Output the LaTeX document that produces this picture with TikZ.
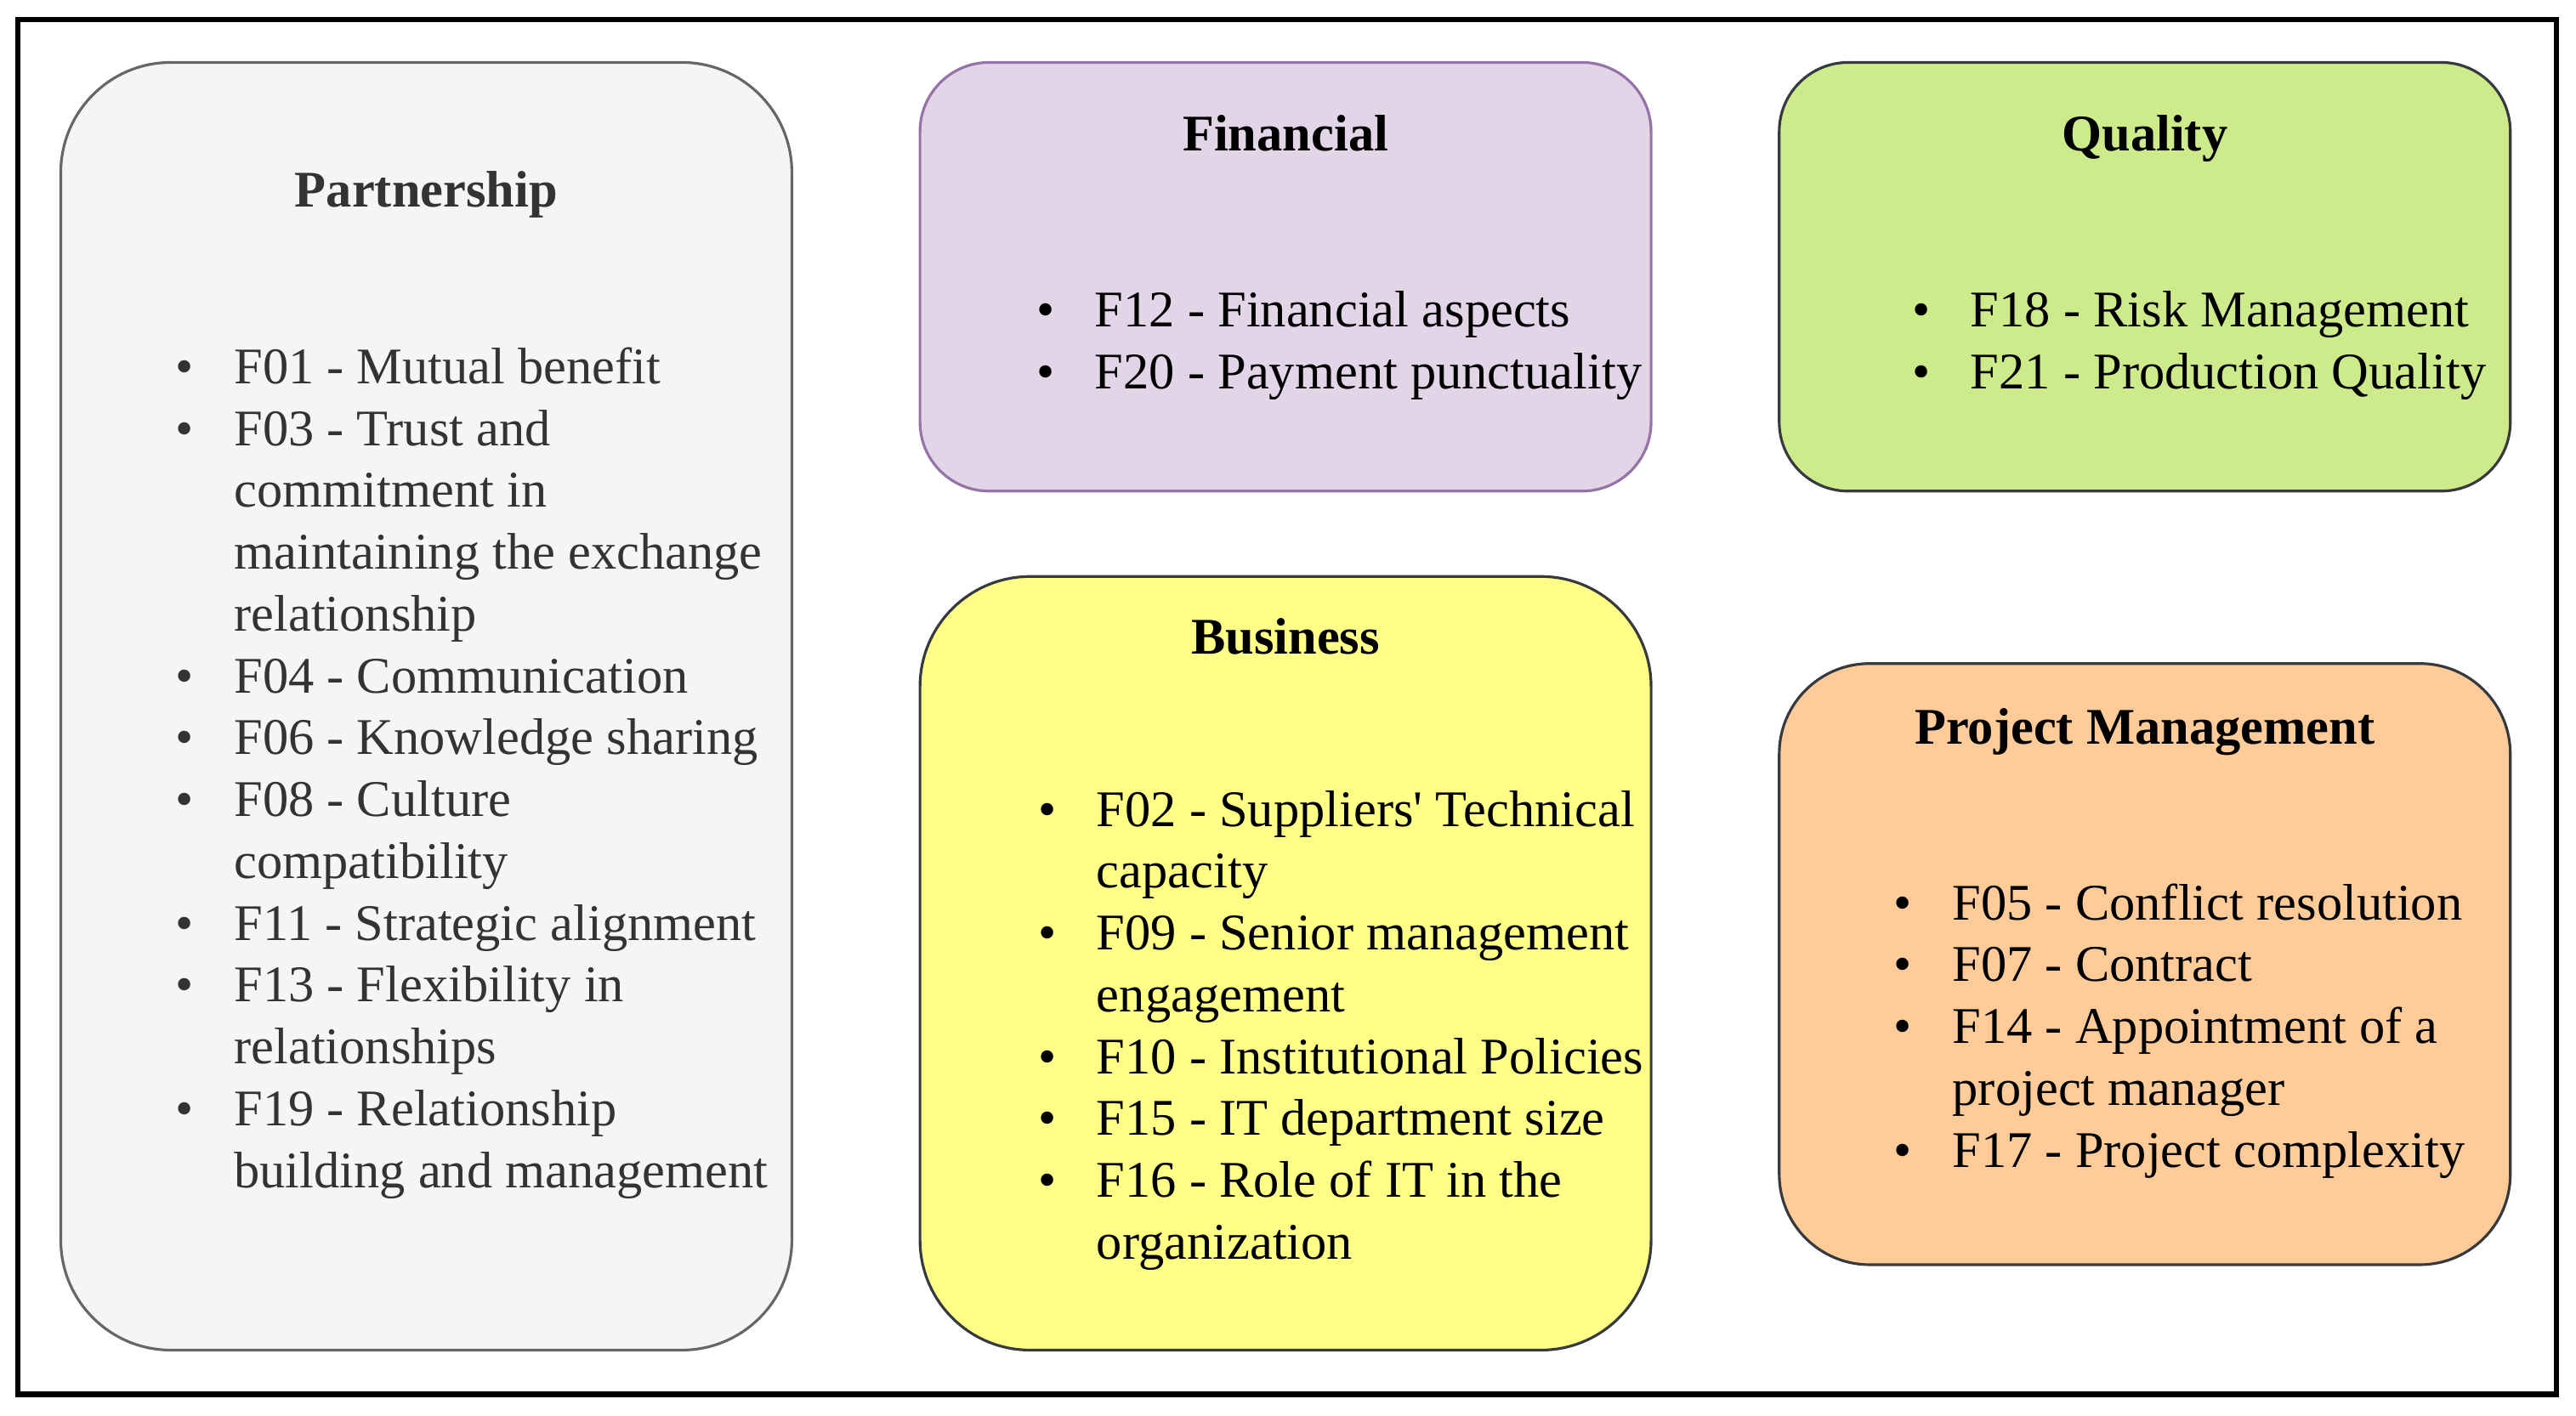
\documentclass[tikz,border=0pt]{standalone}
\usepackage{fontspec}
\setmainfont{Liberation Serif}
\definecolor{partfill}{HTML}{F5F5F5}
\definecolor{partline}{HTML}{666666}
\definecolor{parttext}{HTML}{333333}
\definecolor{finfill}{HTML}{E1D5E7}
\definecolor{finline}{HTML}{9673A6}
\definecolor{qualfill}{HTML}{CDEB8B}
\definecolor{busfill}{HTML}{FFFF88}
\definecolor{pmfill}{HTML}{FFCC99}
\definecolor{darkline}{HTML}{36393D}
\newdimen\pxu \pxu=0.019324cm
\newcommand{\catfont}{\fontsize{17.2pt}{20.7pt}\selectfont}
\newcommand{\bul}{\makebox[1.14em][l]{\textbullet}}
\newcommand{\ind}{\hspace*{1.14em}}
\begin{document}
\begin{tikzpicture}[x=0.019324cm, y=-0.019324cm,
  catbox/.style={draw=darkline, line width=0.9pt, minimum width=445\pxu},
  cattitle/.style={anchor=base, inner sep=0pt, font=\catfont\bfseries},
  catlist/.style={anchor=base west, inner sep=0pt, font=\catfont}]
\useasboundingbox (0,0) rectangle (1568,862);
\draw[line width=1.8pt] (11,12) rectangle (1556,849);
% category boxes
\node[catbox, fill=partfill, draw=partline, minimum height=784\pxu, rounded corners=67\pxu] (part) at (259.5,430) {};
\node[catbox, fill=finfill, draw=finline, minimum height=261\pxu, rounded corners=42\pxu] (fin) at (782.5,168.5) {};
\node[catbox, fill=qualfill, minimum height=261\pxu, rounded corners=42\pxu] (qual) at (1305.5,168.5) {};
\node[catbox, fill=busfill, minimum height=471\pxu, rounded corners=67\pxu] (bus) at (782.5,586.5) {};
\node[catbox, fill=pmfill, minimum height=366\pxu, rounded corners=55\pxu] (pm) at (1305.5,587) {};
% titles
\node[cattitle, text=parttext] (parttitle) at (259.5,126) {Partnership};
\node[cattitle] (fintitle) at (782.5,92) {Financial};
\node[cattitle] (qualtitle) at (1305.5,92) {Quality};
\node[cattitle] (bustitle) at (782.5,398) {Business};
\node[cattitle] (pmtitle) at (1305.5,453) {Project Management};
% factor lists
\node[catlist, text=parttext] (partlist) at (106.5,233.5) {\parbox[t]{420\pxu}{\raggedright
\bul F01 - Mutual benefit\\
\bul F03 - Trust and\\
\ind commitment in\\
\ind maintaining the exchange\\
\ind relationship\\
\bul F04 - Communication\\
\bul F06 - Knowledge sharing\\
\bul F08 - Culture\\
\ind compatibility\\
\bul F11 - Strategic alignment\\
\bul F13 - Flexibility in\\
\ind relationships\\
\bul F19 - Relationship\\
\ind building and management}};
\node[catlist] (finlist) at (630.5,199) {\parbox[t]{420\pxu}{\raggedright
\bul F12 - Financial aspects\\
\bul F20 - Payment punctuality}};
\node[catlist] (quallist) at (1163.5,199) {\parbox[t]{420\pxu}{\raggedright
\bul F18 - Risk Management\\
\bul F21 - Production Quality}};
\node[catlist] (buslist) at (631.5,503) {\parbox[t]{420\pxu}{\raggedright
\bul F02 - Suppliers\textquotesingle{} Technical\\
\ind capacity\\
\bul F09 - Senior management\\
\ind engagement\\
\bul F10 - Institutional Policies\\
\bul F15 - IT department size\\
\bul F16 - Role of IT in the\\
\ind organization}};
\node[catlist] (pmlist) at (1152.5,560) {\parbox[t]{420\pxu}{\raggedright
\bul F05 - Conflict resolution\\
\bul F07 - Contract\\
\bul F14 - Appointment of a\\
\ind project manager\\
\bul F17 - Project complexity}};
\end{tikzpicture}
\end{document}
